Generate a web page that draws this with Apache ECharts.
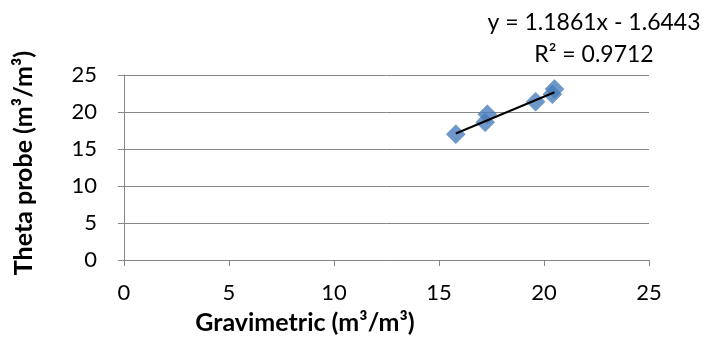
<!DOCTYPE html>
<html>
<head>
<meta charset="utf-8">
<script src="https://cdn.jsdelivr.net/npm/echarts@6/dist/echarts.min.js"></script>
<style>
  html, body { margin: 0; padding: 0; background: #fff; }
  #chart { width: 708px; height: 345px; }
</style>
</head>
<body>
<div id="chart"></div>
<script>
// Measured moisture: gravimetric vs. theta probe readings
const gravimetric = [15.8, 17.2, 17.3, 19.6, 20.4, 20.5];
const thetaProbe  = [17.0, 18.6, 19.7, 21.4, 22.4, 23.1];

// Linear trendline coefficients
const slope = 1.1861;
const intercept = -1.6443;
const rSquared = 0.9712;

const xTicks = [0, 5, 10, 15, 20, 25];
const yTicks = [0, 5, 10, 15, 20, 25];

const xTitle = 'Gravimetric (m³/m³)';
const yTitle = 'Theta probe (m³/m³)';

const points = gravimetric.map((g, i) => [g, thetaProbe[i]]);
const xMin = Math.min(...gravimetric);
const xMax = Math.max(...gravimetric);
const trend = [xMin, xMax].map(x => [x, slope * x + intercept]);

const font = 'Lato, "Open Sans", sans-serif';
const gray = '#868686';

const chart = echarts.init(document.getElementById('chart'), null, { renderer: 'canvas' });
chart.setOption({
  animation: false,
  grid: { left: 124, right: 59, top: 75, bottom: 85 },
  xAxis: {
    type: 'value',
    min: xTicks[0], max: xTicks[xTicks.length - 1], interval: 5,
    axisLine: { show: true, lineStyle: { color: gray, width: 1 } },
    axisTick: { show: true, length: 6, lineStyle: { color: gray } },
    axisLabel: { fontFamily: font, fontSize: 22, color: '#000', margin: 22 },
    splitLine: { show: false }
  },
  yAxis: {
    type: 'value',
    min: yTicks[0], max: yTicks[yTicks.length - 1], interval: 5,
    axisLine: { show: true, lineStyle: { color: gray, width: 1 } },
    axisTick: { show: true, length: 6, lineStyle: { color: gray } },
    axisLabel: { fontFamily: font, fontSize: 22, color: '#000', margin: 27 },
    splitLine: { show: true, lineStyle: { color: gray, width: 1 } }
  },
  series: [
    {
      type: 'scatter',
      data: points,
      symbol: 'diamond',
      symbolSize: 19,
      itemStyle: { color: '#4a7ebb', borderColor: '#4675b0', borderWidth: 0.5 },
      z: 2
    },
    {
      type: 'line',
      data: trend,
      symbol: 'none',
      lineStyle: { color: '#000', width: 2 },
      z: 3
    }
  ],
  graphic: [
    {
      type: 'text', x: 594, y: 23,
      style: { text: 'y = ' + slope.toFixed(4) + 'x - ' + Math.abs(intercept).toFixed(4),
               font: '23px ' + font, fill: '#000', align: 'center', verticalAlign: 'middle' }
    },
    {
      type: 'text', x: 594, y: 55,
      style: { text: 'R² = ' + rSquared.toFixed(4), font: '23px ' + font, fill: '#000',
               align: 'center', verticalAlign: 'middle' }
    },
    {
      type: 'text', x: 305, y: 323,
      style: { text: xTitle, font: 'bold 25px ' + font, fill: '#000',
               align: 'center', verticalAlign: 'middle' }
    },
    {
      type: 'text', x: 24, y: 163, rotation: Math.PI / 2,
      style: { text: yTitle, font: 'bold 25px ' + font, fill: '#000',
               align: 'center', verticalAlign: 'middle' }
    }
  ]
});
</script>
</body>
</html>
